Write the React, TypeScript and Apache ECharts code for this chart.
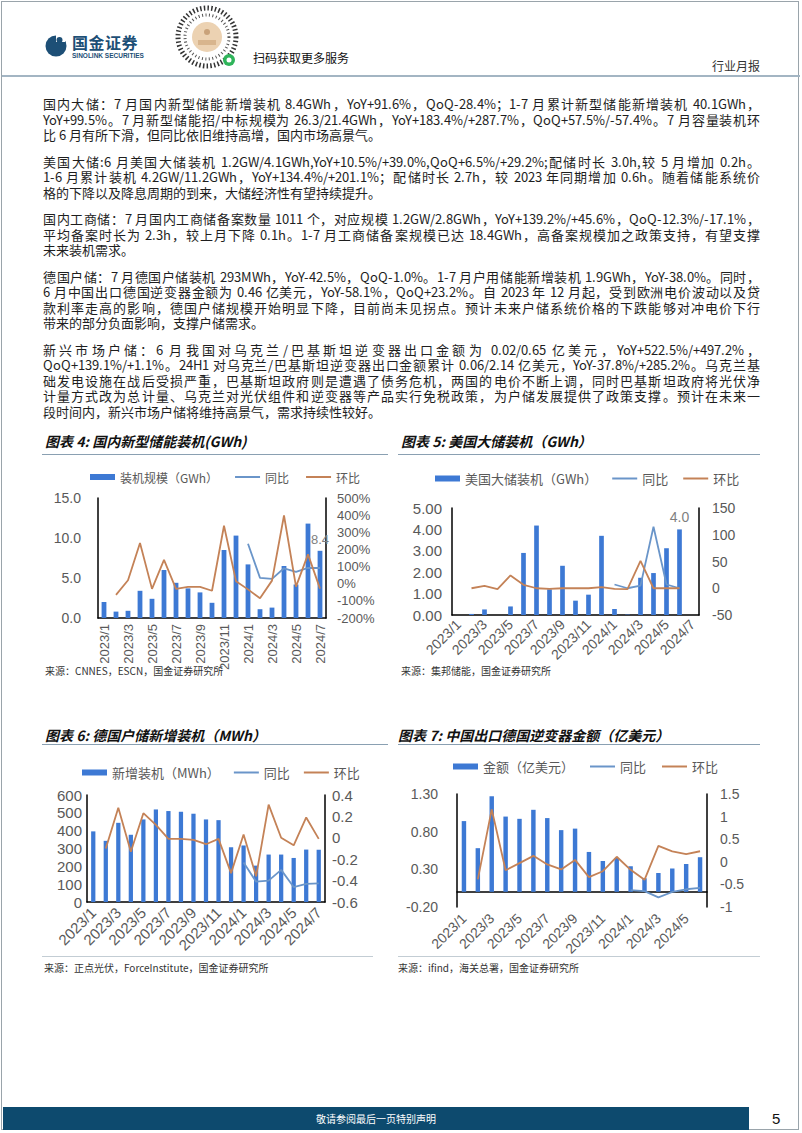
import React, { useEffect, useRef } from 'react';
import * as echarts from 'echarts';

// ---------------- data ----------------
const months19 = ['2023/1', '2023/2', '2023/3', '2023/4', '2023/5', '2023/6', '2023/7', '2023/8', '2023/9', '2023/10', '2023/11', '2023/12', '2024/1', '2024/2', '2024/3', '2024/4', '2024/5', '2024/6', '2024/7'];
const months18 = months19.slice(0, 18);

// 图表4 国内新型储能装机 (GWh, %)
const c4Bars = [2.0, 0.8, 0.9, 3.4, 2.4, 6.0, 4.4, 3.7, 3.2, 1.9, 8.5, 10.3, 6.7, 1.1, 1.3, 6.5, 4.2, 11.8, 8.4];
const c4Yoy = [null, null, null, null, null, null, null, null, null, null, null, null, 233, 34, 28, 90, 69, 92, 91.6];
const c4Qoq = [null, -65, 20, 237, -30, 139, -30, -18, -18, -41, 338, 15, -33, -85, 18, 398, -17, 171, -28.4];

// 图表5 美国大储装机 (GWh)
const c5Bars = [0, 0.05, 0.26, 0, 0.4, 2.9, 4.18, 1.2, 2.3, 0.67, 0.95, 3.7, 0.28, 0.02, 1.74, 1.96, 3.12, 4.0, null];
const c5Yoy = [null, null, null, null, null, null, null, null, null, null, null, null, 7, 0, 5, 115, 7, 0, null];
const c5Qoq = [null, 0, 4.5, -1.5, 24, 6.5, 0, -1, 0, 0, 0, 2, -1, -1.5, 51, 0, 0, 0, null];

// 图表6 德国户储新增装机 (MWh)
const c6Bars = [396, 343, 444, 377, 463, 519, 510, 506, 495, 463, 459, 307, 317, 204, 266, 266, 247, 294, 293];
const c6Yoy = [null, null, null, null, null, null, null, null, null, null, null, null, -0.23, -0.41, -0.40, -0.30, -0.46, -0.43, -0.425];
const c6Qoq = [null, -0.10, 0.28, -0.13, 0.23, 0.12, -0.01, -0.01, -0.02, -0.06, -0.01, -0.33, 0.03, -0.36, 0.31, 0.0, -0.07, 0.19, -0.01];

// 图表7 中国出口德国逆变器金额 (亿美元)
const c7Bars = [0.94, 0.58, 1.27, 1.0, 0.97, 1.09, 0.98, 0.82, 0.84, 0.53, 0.41, 0.45, 0.34, 0.18, 0.25, 0.31, 0.37, 0.46];
const c7Yoy = [null, null, null, null, null, null, null, null, null, null, null, null, -0.63, -0.65, -0.79, -0.67, -0.61, -0.58];
const c7Qoq = [null, -0.39, 1.16, -0.19, -0.03, 0.13, -0.06, -0.17, 0.04, -0.34, -0.21, 0.11, -0.18, -0.40, 0.35, 0.23, 0.17, 0.232];
const c7LeftTicks = [-0.2, 0.3, 0.8, 1.3];

const paragraphs: string[][] = [
  [
    '国内大储：7 月国内新型储能新增装机 8.4GWh，YoY+91.6%，QoQ-28.4%；1-7 月累计新型储能新增装机 40.1GWh，',
    'YoY+99.5%。7 月新型储能招/中标规模为 26.3/21.4GWh，YoY+183.4%/+287.7%，QoQ+57.5%/-57.4%。7 月容量装机环',
    '比 6 月有所下滑，但同比依旧维持高增，国内市场高景气。',
  ],
  [
    '美国大储:6 月美国大储装机 1.2GW/4.1GWh,YoY+10.5%/+39.0%,QoQ+6.5%/+29.2%;配储时长 3.0h,较 5 月增加 0.2h。',
    '1-6 月累计装机 4.2GW/11.2GWh，YoY+134.4%/+201.1%；配储时长 2.7h，较 2023 年同期增加 0.6h。随着储能系统价',
    '格的下降以及降息周期的到来，大储经济性有望持续提升。',
  ],
  [
    '国内工商储：7 月国内工商储备案数量 1011 个，对应规模 1.2GW/2.8GWh，YoY+139.2%/+45.6%，QoQ-12.3%/-17.1%，',
    '平均备案时长为 2.3h，较上月下降 0.1h。1-7 月工商储备案规模已达 18.4GWh，高备案规模加之政策支持，有望支撑',
    '未来装机需求。',
  ],
  [
    '德国户储：7 月德国户储装机 293MWh，YoY-42.5%，QoQ-1.0%。1-7 月户用储能新增装机 1.9GWh，YoY-38.0%。同时，',
    '6 月中国出口德国逆变器金额为 0.46 亿美元，YoY-58.1%，QoQ+23.2%。自 2023 年 12 月起，受到欧洲电价波动以及贷',
    '款利率走高的影响，德国户储规模开始明显下降，目前尚未见拐点。预计未来户储系统价格的下跌能够对冲电价下行',
    '带来的部分负面影响，支撑户储需求。',
  ],
  [
    '新兴市场户储：6 月我国对乌克兰/巴基斯坦逆变器出口金额为 0.02/0.65 亿美元，YoY+522.5%/+497.2%，',
    'QoQ+139.1%/+1.1%。24H1 对乌克兰/巴基斯坦逆变器出口金额累计 0.06/2.14 亿美元，YoY-37.8%/+285.2%。乌克兰基',
    '础发电设施在战后受损严重，巴基斯坦政府则是遭遇了债务危机，两国的电价不断上调，同时巴基斯坦政府将光伏净',
    '计量方式改为总计量、乌克兰对光伏组件和逆变器等产品实行免税政策，为户储发展提供了政策支撑。预计在未来一',
    '段时间内，新兴市场户储将维持高景气，需求持续性较好。',
  ],
];

// ---------------- styles ----------------
const CJK = '"Noto Sans CJK SC", "Noto Sans", sans-serif';
const BODY = '"BodyCJK", "Noto Sans CJK SC", "Noto Sans", sans-serif';
const NUM = '"Liberation Sans", Arial, sans-serif';
const GRAY = '#595959';
const BAR_C = '#3d79d4';
const YOY_C = '#6a95c9';
const QOQ_C = '#c48257';
const LINE_ICON = 'path://M0,0 L25,0 L25,2 L0,2 Z';

const FONT_CSS = `@font-face { font-family: "BodyCJK"; src: local("Noto Sans CJK SC"), local("Noto Sans CJK SC Regular"), local("NotoSansCJKsc-Regular"); ascent-override: 100%; descent-override: 18%; line-gap-override: 0%; }`;

type AxisCfg = { min: number; max: number; interval: number; fmt: (v: number) => string; font: number; margin: number; custom?: number[] };

function yAxisCfg(a: AxisCfg, position: 'left' | 'right') {
  const label: any = { color: GRAY, fontSize: a.font, fontFamily: NUM, margin: a.margin, formatter: a.fmt };
  if (a.custom) label.customValues = a.custom;
  return {
    type: 'value',
    position,
    min: a.min,
    max: a.max,
    interval: a.interval,
    axisLine: { show: true, onZero: false, lineStyle: { color: '#000', width: 1.5 } },
    axisTick: { show: false },
    splitLine: { show: false },
    axisLabel: label,
  };
}

function makeOption(o: {
  cats: string[];
  bars: (number | null)[];
  yoy: (number | null)[];
  qoq: (number | null)[];
  barName: string;
  grid: { left: number; right: number; top: number; bottom: number };
  legend: { left: number; top: number; font: number; gap: number };
  yl: AxisCfg;
  yr: AxisCfg;
  x: { rotate: number; font: number; margin: number };
  barWidth: string;
  endLabel?: { index: number; font: number };
}) {
  const barSeries: any = {
    name: o.barName,
    type: 'bar',
    yAxisIndex: 0,
    data: o.bars,
    barWidth: o.barWidth,
    itemStyle: { color: BAR_C },
  };
  if (o.endLabel) {
    const idx = o.endLabel.index;
    barSeries.label = {
      show: true,
      position: 'top',
      distance: 5,
      color: '#7f7f7f',
      fontSize: o.endLabel.font,
      fontFamily: NUM,
      formatter: (p: any) => (p.dataIndex === idx ? Number(p.value).toFixed(1) : ''),
    };
  }
  return {
    animation: false,
    grid: { ...o.grid, containLabel: false },
    legend: {
      left: o.legend.left,
      top: o.legend.top,
      itemWidth: 25,
      itemHeight: 6,
      itemGap: o.legend.gap,
      textStyle: { color: GRAY, fontSize: o.legend.font, fontFamily: CJK },
      data: [
        { name: o.barName, icon: 'rect' },
        { name: '同比', icon: LINE_ICON },
        { name: '环比', icon: LINE_ICON },
      ],
    },
    xAxis: {
      type: 'category',
      data: o.cats,
      axisLine: { show: true, onZero: true, onZeroAxisIndex: 0, lineStyle: { color: '#000', width: 1.5 } },
      axisTick: { show: false },
      axisLabel: { interval: 1, rotate: o.x.rotate, fontSize: o.x.font, color: GRAY, margin: o.x.margin, fontFamily: NUM },
    },
    yAxis: [yAxisCfg(o.yl, 'left'), yAxisCfg(o.yr, 'right')],
    series: [
      barSeries,
      { name: '同比', type: 'line', yAxisIndex: 1, data: o.yoy, symbol: 'none', lineStyle: { color: YOY_C, width: 1.8 }, itemStyle: { color: YOY_C } },
      { name: '环比', type: 'line', yAxisIndex: 1, data: o.qoq, symbol: 'none', lineStyle: { color: QOQ_C, width: 1.8 }, itemStyle: { color: QOQ_C } },
    ],
  };
}

const opt4 = makeOption({
  cats: months19, bars: c4Bars, yoy: c4Yoy, qoq: c4Qoq, barName: '装机规模（GWh）',
  grid: { left: 56, right: 56, top: 40, bottom: 62 },
  legend: { left: 43, top: 8, font: 12, gap: 17 },
  yl: { min: 0, max: 15, interval: 5, fmt: (v) => v.toFixed(1), font: 14, margin: 17 },
  yr: { min: -200, max: 500, interval: 100, fmt: (v) => `${v}%`, font: 13, margin: 11 },
  x: { rotate: 90, font: 13, margin: 6 },
  barWidth: '40%',
  endLabel: { index: 18, font: 13 },
});

const opt5 = makeOption({
  cats: months19, bars: c5Bars, yoy: c5Yoy, qoq: c5Qoq, barName: '美国大储装机（GWh）',
  grid: { left: 52, right: 61, top: 50, bottom: 65 },
  legend: { left: 30, top: 9, font: 13, gap: 15 },
  yl: { min: 0, max: 5, interval: 1, fmt: (v) => v.toFixed(2), font: 15, margin: 10 },
  yr: { min: -50, max: 150, interval: 50, fmt: (v) => `${v}`, font: 14, margin: 13 },
  x: { rotate: 45, font: 14, margin: 7 },
  barWidth: '36%',
  endLabel: { index: 17, font: 14 },
});

const opt6 = makeOption({
  cats: months19, bars: c6Bars, yoy: c6Yoy, qoq: c6Qoq, barName: '新增装机（MWh）',
  grid: { left: 45, right: 53, top: 45, bottom: 60 },
  legend: { left: 35, top: 11, font: 13, gap: 14 },
  yl: { min: 0, max: 600, interval: 100, fmt: (v) => `${v}`, font: 15, margin: 5 },
  yr: { min: -0.6, max: 0.4, interval: 0.2, fmt: (v) => `${Math.round(v * 10) / 10}`, font: 15, margin: 7 },
  x: { rotate: 45, font: 15, margin: 8 },
  barWidth: '34%',
});

const opt7 = makeOption({
  cats: months18, bars: c7Bars, yoy: c7Yoy, qoq: c7Qoq, barName: '金额（亿美元）',
  grid: { left: 59, right: 53, top: 46, bottom: 43 },
  legend: { left: 50, top: 7, font: 13, gap: 16 },
  yl: { min: -0.2, max: 1.3, interval: 0.5, fmt: (v) => v.toFixed(2), font: 14, margin: 19, custom: c7LeftTicks },
  yr: { min: -1, max: 1.5, interval: 0.5, fmt: (v) => `${Math.round(v * 10) / 10}`, font: 14, margin: 13 },
  x: { rotate: 45, font: 14, margin: 9 },
  barWidth: '32%',
});

// ---------------- components ----------------
function Chart({ option, left, top, width, height }: { option: any; left: number; top: number; width: number; height: number }) {
  const ref = useRef<HTMLDivElement>(null);
  useEffect(() => {
    if (!ref.current) return;
    const inst = echarts.init(ref.current, undefined, { renderer: 'svg' });
    inst.setOption(option);
    return () => inst.dispose();
  }, [option]);
  return <div ref={ref} style={{ position: 'absolute', left, top, width, height }} />;
}

const abs = (left: number, top: number, extra: React.CSSProperties = {}): React.CSSProperties => ({ position: 'absolute', left, top, ...extra });

function Title({ x, y, text }: { x: number; y: number; text: string }) {
  return (
    <div style={abs(x, y, { fontFamily: CJK, fontSize: 14, fontWeight: 'bold', fontStyle: 'italic', color: '#111', lineHeight: '18px', whiteSpace: 'nowrap' })}>{text}</div>
  );
}

function Source({ x, y, text }: { x: number; y: number; text: string }) {
  return <div style={abs(x, y, { fontFamily: CJK, fontSize: 10, color: '#333', lineHeight: '12px', whiteSpace: 'nowrap' })}>{text}</div>;
}

function Rule({ x, y, w, color = '#8aa0b2', h = 1 }: { x: number; y: number; w: number; color?: string; h?: number }) {
  return <div style={abs(x, y, { width: w, height: h, background: color })} />;
}

function QrMark() {
  return (
    <svg width={66} height={68} style={abs(174, 3)} viewBox="0 0 66 68">
      <circle cx={33} cy={34} r={29} fill="none" stroke="#333" strokeWidth={5} strokeDasharray="1.5 2.2" />
      <circle cx={33} cy={34} r={22} fill="none" stroke="#555" strokeWidth={3} strokeDasharray="1 2.5" />
      <circle cx={33} cy={34} r={15} fill="#ecd2b2" />
      <circle cx={33} cy={29} r={3} fill="#c9a27a" />
      <rect x={24} y={37} width={18} height={5} fill="#d8b58d" />
      <circle cx={55} cy={57} r={6} fill="#2fb45a" />
      <circle cx={55} cy={57} r={2.5} fill="#fff" />
    </svg>
  );
}

function Logo() {
  return (
    <svg width={24} height={24} style={abs(44, 33)} viewBox="0 0 24 24">
      <circle cx={12} cy={13} r={10.5} fill="#1d4f76" />
      <rect x={12} y={1} width={9} height={8} fill="#fff" />
      <circle cx={15.5} cy={7} r={3} fill="#1d4f76" />
    </svg>
  );
}

export default function App() {
  const textTop = 104 - 7.75;
  return (
    <div style={{ position: 'absolute', left: 0, top: 0, width: 802, height: 1133, background: '#fff', overflow: 'hidden', fontFamily: CJK }}>
      <style>{FONT_CSS}</style>
      {/* page frame */}
      <div style={abs(1, 1, { width: 798, height: 1129, border: '1px solid #9aa4ab', boxSizing: 'border-box' })} />

      {/* header */}
      <Logo />
      <div style={abs(72, 34, { fontSize: 16, fontWeight: 'bold', color: '#1d4f76', lineHeight: '16px', letterSpacing: 0.5 })}>国金证券</div>
      <div style={abs(72, 52, { fontSize: 6.5, fontWeight: 'bold', color: '#1d4f76', lineHeight: '7px', fontFamily: NUM, whiteSpace: 'nowrap' })}>SINOLINK SECURITIES</div>
      <QrMark />
      <div style={abs(253, 51, { fontSize: 12, color: '#111', lineHeight: '14px', whiteSpace: 'nowrap' })}>扫码获取更多服务</div>
      <div style={abs(712, 59, { fontSize: 12, color: '#333', lineHeight: '14px', whiteSpace: 'nowrap' })}>行业月报</div>
      <Rule x={2} y={75} w={798} h={2} color="#a3b5c3" />

      {/* body text */}
      <div style={abs(43, textTop, { width: 717, fontSize: 13, color: '#1e1e1e', fontFamily: BODY })}>
        {paragraphs.map((lines, pi) => (
          <div key={pi} style={{ marginBottom: 11 }}>
            {lines.map((ln, li) => (
              <div
                key={li}
                style={{ height: 15.5, lineHeight: '15.5px', textAlign: 'justify', textAlignLast: li === lines.length - 1 ? 'left' : 'justify' } as React.CSSProperties}
              >
                {ln}
              </div>
            ))}
          </div>
        ))}
      </div>

      {/* chart 4 & 5 */}
      <Title x={45} y={432} text="图表 4: 国内新型储能装机(GWh)" />
      <Title x={401} y={432} text="图表 5: 美国大储装机（GWh）" />
      <Rule x={42} y={454} w={346} />
      <Rule x={398} y={454} w={362} />
      <Chart option={opt4} left={42} top={458} width={340} height={222} />
      <Chart option={opt5} left={400} top={458} width={360} height={222} />
      <Source x={45} y={665} text="来源：CNNES，ESCN，国金证券研究所" />
      <Source x={401} y={665} text="来源：集邦储能，国金证券研究所" />

      {/* chart 6 & 7 */}
      <Title x={45} y={726} text="图表 6: 德国户储新增装机（MWh）" />
      <Title x={398} y={726} text="图表 7: 中国出口德国逆变器金额（亿美元）" />
      <Rule x={42} y={744} w={346} />
      <Rule x={398} y={744} w={362} />
      <Chart option={opt6} left={42} top={750} width={336} height={212} />
      <Chart option={opt7} left={398} top={748} width={362} height={210} />
      <Rule x={42} y={956} w={331} color="#c3cdd4" />
      <Rule x={398} y={956} w={362} color="#c3cdd4" />
      <Source x={44} y={962} text="来源：正点光伏，ForceInstitute，国金证券研究所" />
      <Source x={398} y={962} text="来源：ifind，海关总署，国金证券研究所" />

      {/* footer */}
      <div style={abs(3, 1107, { width: 746, height: 23, background: '#0d4a6e', color: '#fff', fontSize: 10, lineHeight: '23px', textAlign: 'center' })}>敬请参阅最后一页特别声明</div>
      <div style={abs(772, 1109, { fontSize: 15, color: '#111', lineHeight: '20px', fontFamily: NUM })}>5</div>
    </div>
  );
}
